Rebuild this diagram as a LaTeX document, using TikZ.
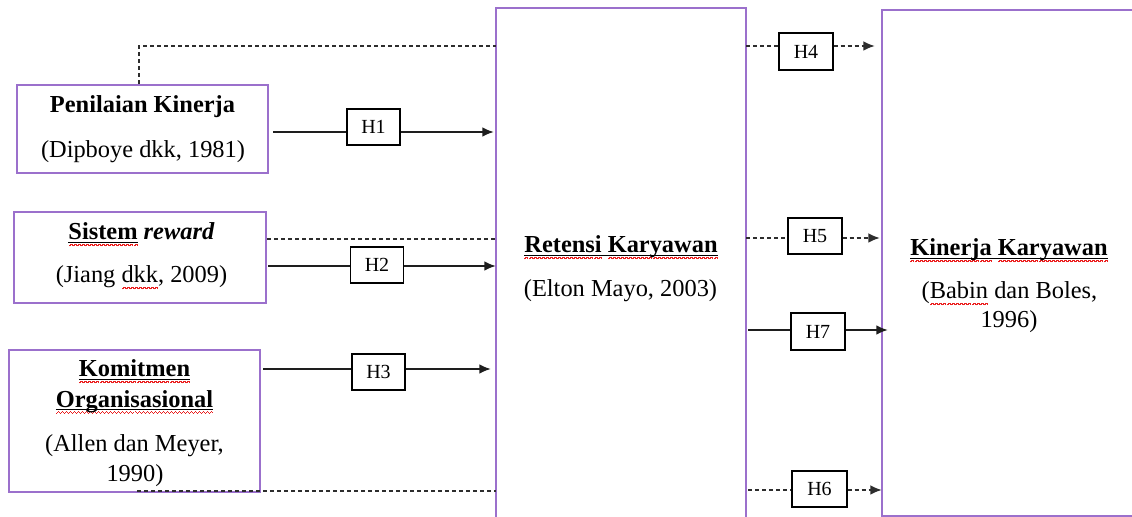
\documentclass[tikz,border=0pt]{standalone}
\usepackage{fontspec}
\setmainfont{Liberation Serif}
\usetikzlibrary{arrows.meta,fit}

\definecolor{boxpurple}{RGB}{155,112,204}
\definecolor{linegray}{RGB}{30,30,30}
\definecolor{dashgray}{RGB}{45,45,45}
\definecolor{spellred}{RGB}{235,30,30}

% red spell-check squiggle under a word
\newsavebox\wvbox
\newcommand\wavy[1]{\sbox\wvbox{#1}%
  \rlap{\color{spellred}\hbox to\wd\wvbox{\xleaders\hbox{%
    \rule[-3.2pt]{.5pt}{.6pt}\rule[-2.8pt]{.5pt}{.6pt}%
    \rule[-2.4pt]{.5pt}{.6pt}\rule[-2.8pt]{.5pt}{.6pt}}\hfill}}%
  \usebox\wvbox}
% plain black underline
\newsavebox\ulbox
\newcommand\ulin[1]{\sbox\ulbox{#1}%
  \rlap{\rule[-1.35pt]{\wd\ulbox}{.55pt}}\usebox\ulbox}

\tikzset{
  frame/.style={draw=boxpurple, line width=1pt, inner sep=0pt},
  openframe/.style={inner sep=0pt},
  frameline/.style={draw=boxpurple, line width=1pt},
  hbox/.style={draw=black, line width=0.6pt, minimum width=26.5pt,
    minimum height=18pt, inner sep=0pt, fill=white,
    font=\fontsize{10}{12}\selectfont},
  txt/.style={anchor=base, inner sep=0pt, font=\fontsize{12.2}{15}\selectfont},
  tip/.style={-{Latex[length=5.6pt,width=4.8pt]}},
  solidline/.style={draw=linegray, line width=0.65pt},
  solidarrow/.style={solidline, tip},
  dashline/.style={draw=dashgray, line width=0.6pt, dash pattern=on 2pt off 1.5pt},
  dasharrow/.style={dashline, tip},
}

\begin{document}
\begin{tikzpicture}[x=0.5pt, y=-0.5pt]
  \path[fill=white] (0,0) rectangle (1132,517);
  \useasboundingbox (0,0) rectangle (1132,517);

  % variable boxes
  \node[frame, fit={(17,85) (268,173)}] (pk) {};
  \node[frame, fit={(14,212) (266,303)}] (sr) {};
  \node[frame, fit={(9,350) (260,492)}] (ko) {};
  % the two tall boxes run off the page (bottom / right side)
  \node[openframe, fit={(496,8) (746,540)}] (rk) {};
  \draw[frameline] (rk.south west) -- (rk.north west) -- (rk.north east) -- (rk.south east);
  \node[openframe, fit={(882,10) (1150,516)}] (kk) {};
  \draw[frameline] (kk.north east) -- (kk.north west) -- (kk.south west) -- (kk.south east);

  % box texts
  \node[txt] (pk1) at (142.5,113) {\textbf{Penilaian Kinerja}};
  \node[txt] (pk2) at (143,158) {(Dipboye dkk, 1981)};
  \node[txt] (sr1) at (141.5,240) {\textbf{\ulin{\wavy{Sistem}} \textit{reward}}};
  \node[txt] (sr2) at (141.5,283) {(Jiang \wavy{dkk}, 2009)};
  \node[txt] (ko1) at (134.5,377) {\textbf{\ulin{\wavy{Komitmen}}}};
  \node[txt] (ko2) at (134.5,407.5) {\textbf{\ulin{\wavy{Organisasional}}}};
  \node[txt] (ko3) at (134.5,451.5) {(Allen dan Meyer,};
  \node[txt] (ko4) at (135,481.5) {1990)};
  \node[txt] (rk1) at (621,253) {\textbf{\ulin{\wavy{Retensi} \wavy{Karyawan}}}};
  \node[txt] (rk2) at (620.5,296.5) {(Elton Mayo, 2003)};
  \node[txt] (kk1) at (1009,256) {\textbf{\ulin{\wavy{Kinerja} \wavy{Karyawan}}}};
  \node[txt] (kk2) at (1009.5,299) {(\wavy{Babin} dan Boles,};
  \node[txt] (kk3) at (1009,328) {1996)};

  % hypothesis labels
  \node[hbox] (h1) at (373.5,127) {H1};
  \node[hbox] (h2) at (377,265) {H2};
  \node[hbox] (h3) at (378.5,372) {H3};
  \node[hbox, minimum width=27pt, minimum height=18.5pt] (h4) at (806,51.5) {H4};
  \node[hbox, minimum width=27pt] (h5) at (815,236) {H5};
  \node[hbox, minimum width=27pt, minimum height=18.5pt] (h7) at (818,331.5) {H7};
  \node[hbox, minimum width=27.5pt] (h6) at (819.5,489) {H6};

  % line levels
  \coordinate (y1) at (273,132);
  \coordinate (y2) at (268,266);
  \coordinate (y3) at (263,369);
  \coordinate (yd1) at (139,46);
  \coordinate (yd2) at (266,239);
  \coordinate (yd3) at (137,491);
  \coordinate (y4) at (746,46);
  \coordinate (y5) at (746,238);
  \coordinate (y7) at (748,330);
  \coordinate (y6) at (748,490);

  % dashed links into Retensi Karyawan
  \draw[dashline] (pk.north -| yd1) |- (rk.west |- yd1);
  \draw[dashline] (sr.east |- yd2) -- (rk.west |- yd2);
  \draw[dashline] (yd3) -- (rk.west |- yd3);

  % H1 - H3
  \draw[solidline] (y1) -- (h1.west |- y1);
  \draw[solidarrow, shorten >=1pt] (h1.east |- y1) -- (rk.west |- y1);
  \draw[solidline] (y2) -- (h2.west |- y2);
  \draw[solidarrow] (h2.east |- y2) -- (rk.west |- y2);
  \draw[solidline] (y3) -- (h3.west |- y3);
  \draw[solidarrow, shorten >=2.5pt] (h3.east |- y3) -- (rk.west |- y3);

  % H4 - H7
  \draw[dashline] (y4) -- (h4.west |- y4);
  \draw[dasharrow, shorten >=3.5pt] (h4.east |- y4) -- (kk.west |- y4);
  \draw[dashline] (y5) -- (h5.west |- y5);
  \draw[dasharrow, shorten >=1pt] (h5.east |- y5) -- (kk.west |- y5);
  \draw[solidline] (y7) -- (h7.west |- y7);
  \draw[solidarrow, shorten >=-3pt] (h7.east |- y7) -- (kk.west |- y7);
  \draw[dashline] (y6) -- (h6.west |- y6);
  \draw[dasharrow] (h6.east |- y6) -- (kk.west |- y6);
\end{tikzpicture}
\end{document}
